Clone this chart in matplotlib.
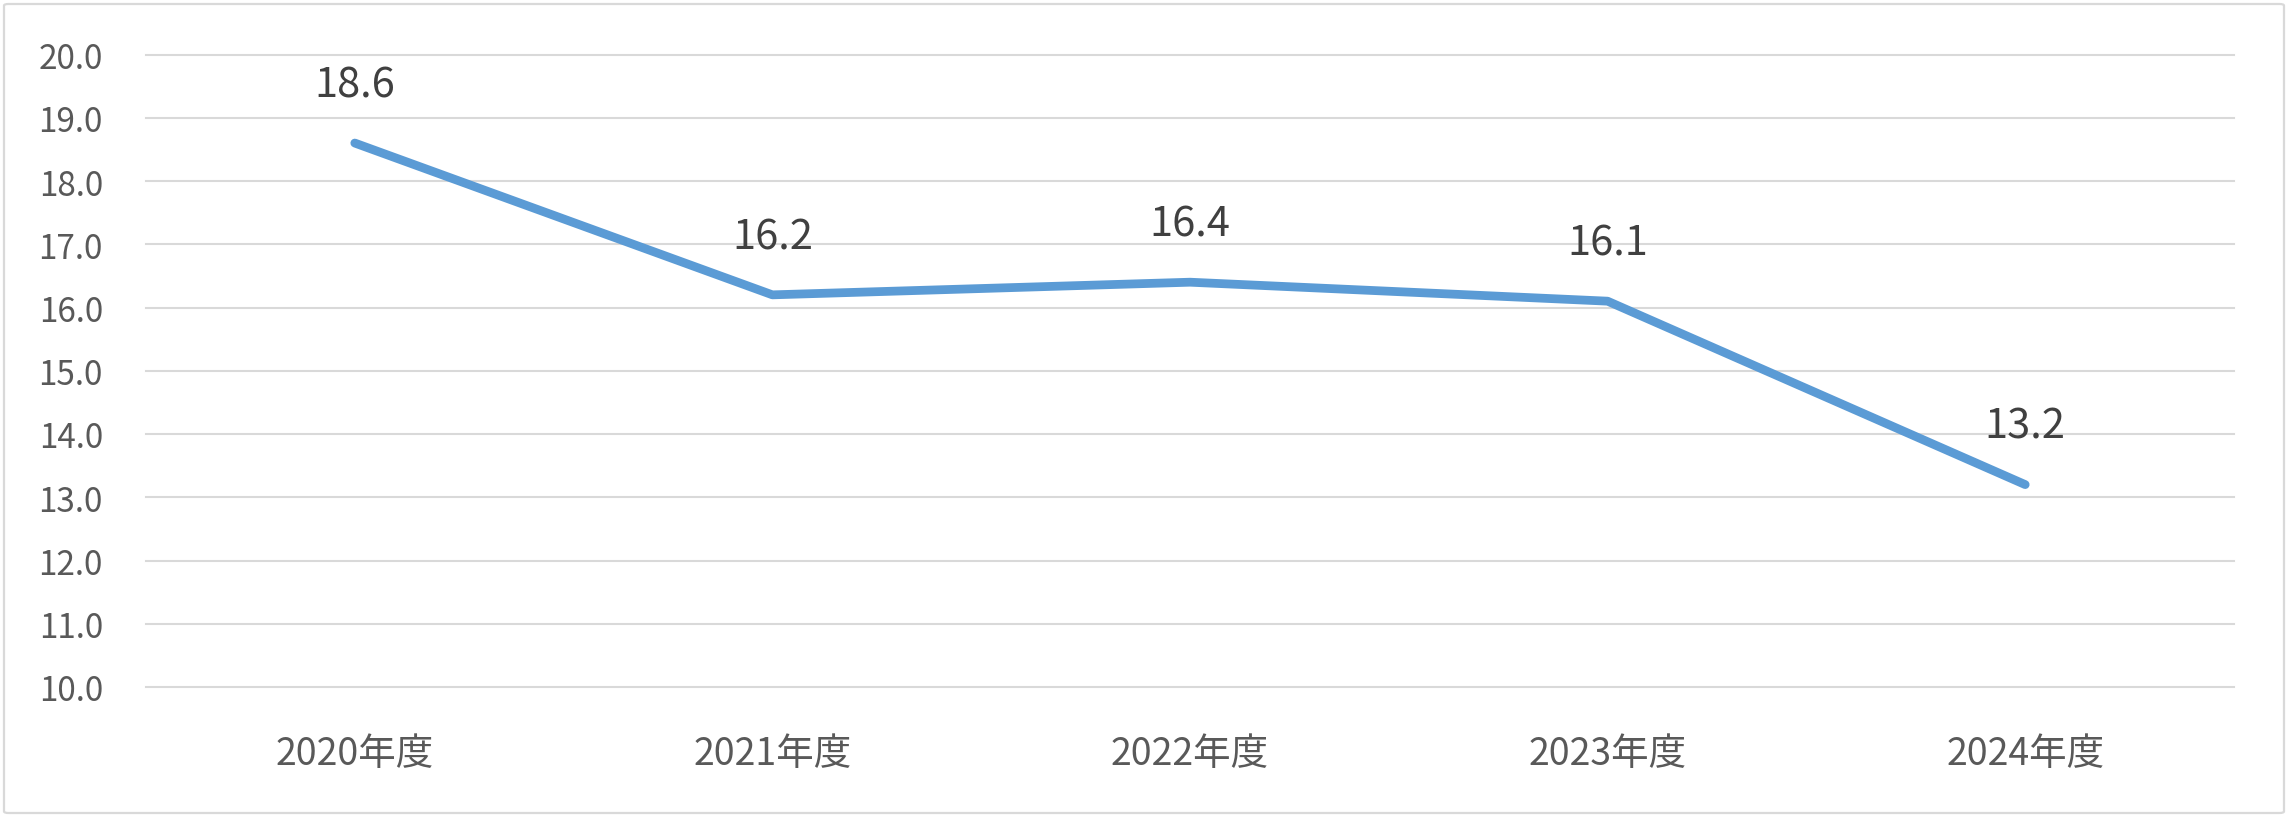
import matplotlib

matplotlib.use("Agg")

import matplotlib.pyplot as plt
from matplotlib.patches import FancyBboxPatch

# values
categories = ["2020年度", "2021年度", "2022年度", "2023年度", "2024年度"]
values = [18.6, 16.2, 16.4, 16.1, 13.2]
y_ticks = [10.0, 11.0, 12.0, 13.0, 14.0, 15.0, 16.0, 17.0, 18.0, 19.0, 20.0]

plt.rcParams["font.family"] = ["Noto Sans CJK JP", "DejaVu Sans"]

W, H = 2291, 820
fig = plt.figure(figsize=(W / 100, H / 100), dpi=100)
fig.patch.set_facecolor("white")

# light outer frame around the chart
fig.patches.append(
    FancyBboxPatch(
        (4 / W, 1 - 814 / H), 2280 / W, 809 / H,
        boxstyle="round,pad=0,rounding_size=0.002",
        transform=fig.transFigure, facecolor="none",
        edgecolor="#D9D9D9", linewidth=1.6,
    )
)

ax = fig.add_axes([146 / W, 1 - 688 / H, 2088 / W, (688 - 55.5) / H])

x = list(range(len(categories)))
ax.plot(x, values, color="#5B9BD5", linewidth=6.3, solid_capstyle="round",
        solid_joinstyle="round", zorder=3)

for xi, v in zip(x, values):
    ax.annotate(f"{v:.1f}", (xi, v), xytext=(0, 42), textcoords="offset points",
                ha="center", va="center", fontsize=30, color="#404040", zorder=4)

ax.set_xlim(-0.5, len(categories) - 0.5)
ax.set_ylim(10, 20)
ax.set_xticks(x)
ax.set_xticklabels(categories)
ax.set_yticks(y_ticks)
ax.set_yticklabels([f"{t:.1f}" for t in y_ticks])

ax.tick_params(axis="both", length=0, colors="#595959")
ax.tick_params(axis="y", pad=31, labelsize=24)
ax.tick_params(axis="x", pad=34, labelsize=27)

ax.grid(axis="y", color="#D9D9D9", linewidth=1.5, clip_on=False)
ax.set_axisbelow(True)
for spine in ax.spines.values():
    spine.set_visible(False)

fig.savefig("out.png", dpi=100)
plt.close(fig)
